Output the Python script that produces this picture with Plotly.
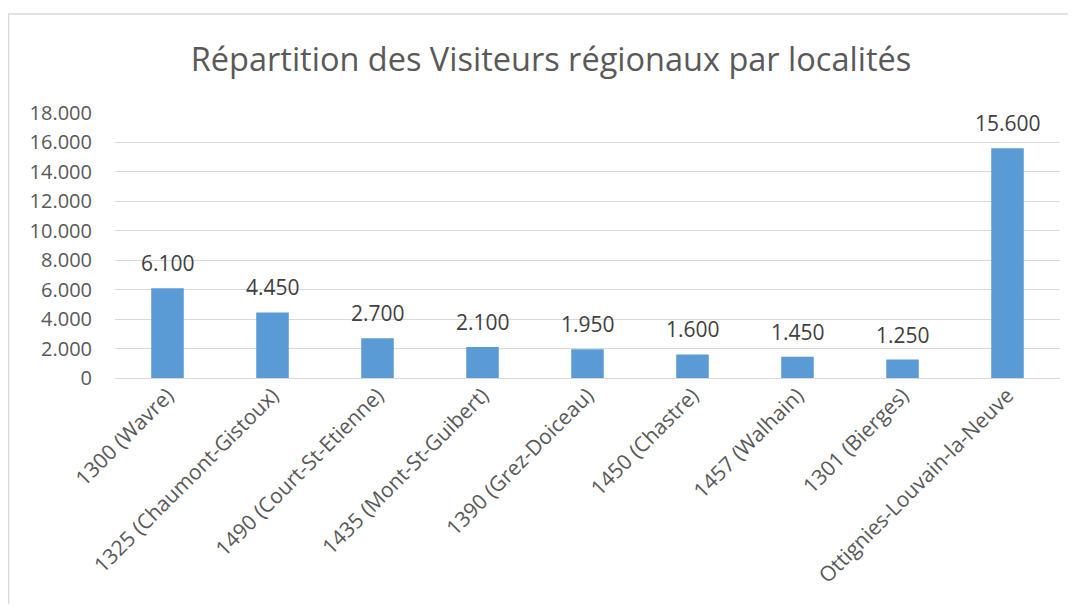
import plotly.graph_objects as go

categories = ["1300 (Wavre)", "1325 (Chaumont-Gistoux)", "1490 (Court-St-Etienne)",
              "1435 (Mont-St-Guibert)", "1390 (Grez-Doiceau)", "1450 (Chastre)",
              "1457 (Walhain)", "1301 (Bierges)", "Ottignies-Louvain-la-Neuve"]
values = [6100, 4450, 2700, 2100, 1950, 1600, 1450, 1250, 15600]
tick_vals = [0, 2000, 4000, 6000, 8000, 10000, 12000, 14000, 16000, 18000]
title_text = "Répartition des Visiteurs régionaux par localités"

FONT = "Open Sans"
OFF = 8  # page body margin
W, H = 1068 - OFF, 604 - OFF
L, T = 115 - OFF, 113 - OFF
R = W - (1060 - OFF)
B = H - (378 - OFF)
pw, ph = W - L - R, H - T - B

fig = go.Figure(go.Bar(x=categories, y=values, marker_color="#5B9BD5",
                       marker_line_width=0, hoverinfo="skip"))

def fmt(v):
    return f"{v:,}".replace(",", ".")

for c, v in zip(categories, values):
    fig.add_annotation(x=c, y=v, text=fmt(v), showarrow=False, yshift=25,
                       font=dict(family=FONT, size=21, color="#404040"))

def px_x(p):
    return (p - OFF - L) / pw

def px_y(p):
    return (H - B - (p - OFF)) / ph

fig.add_shape(type="rect", xref="paper", yref="paper",
              x0=px_x(8.5), x1=px_x(1100), y0=px_y(14), y1=px_y(660),
              line=dict(color="#D9D9D9", width=1.5), fillcolor="rgba(0,0,0,0)", layer="below")

fig.update_layout(
    width=W, height=H,
    margin=dict(l=L, r=R, t=T, b=B, autoexpand=False),
    paper_bgcolor="white", plot_bgcolor="white",
    separators=",.",
    bargap=0.69,
    showlegend=False,
    title=dict(text=title_text, x=(551 - OFF) / W, xanchor="center", xref="container",
               y=1 - (60 - OFF) / H, yanchor="middle", yref="container",
               font=dict(family=FONT, size=32.5, color="#595959")),
    xaxis=dict(tickangle=-45, tickfont=dict(family=FONT, size=21, color="#595959"),
               showgrid=False, showline=False, ticks="", automargin=False),
    yaxis=dict(range=[0, 18000], tickvals=tick_vals, tickformat=",d",
               tickfont=dict(family=FONT, size=20, color="#595959"),
               showgrid=True, gridcolor="#D9D9D9", gridwidth=1.3, zeroline=True,
               zerolinecolor="#D9D9D9", zerolinewidth=1.3, showline=False, ticks="",
               ticklabelstandoff=22, automargin=False),
)

fig.write_html("out.html")
